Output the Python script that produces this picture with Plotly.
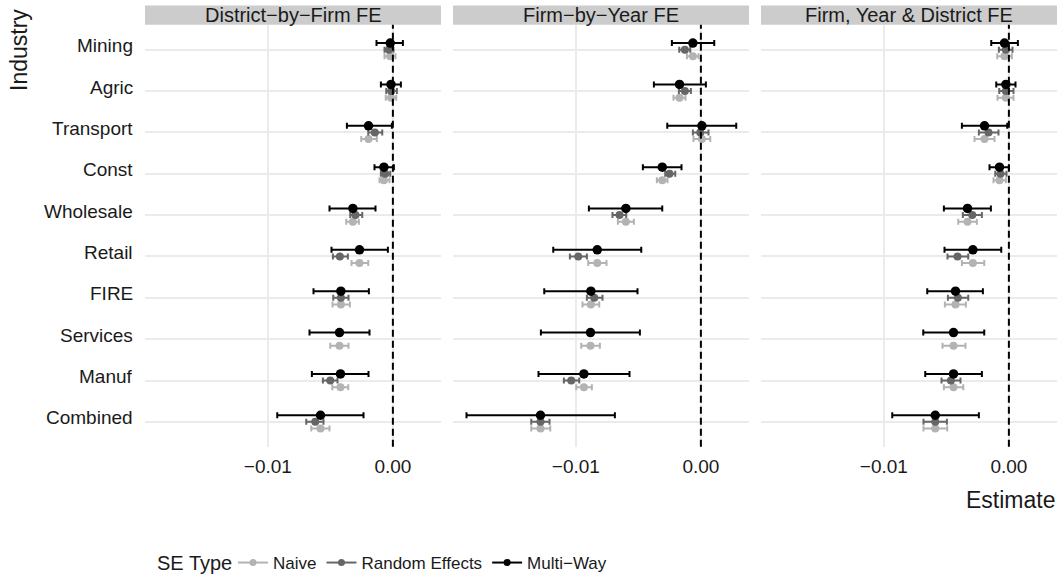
import plotly.graph_objects as go

# ---------------- data ----------------
industries = ["Mining", "Agric", "Transport", "Const", "Wholesale",
              "Retail", "FIRE", "Services", "Manuf", "Combined"]
panels = ["District−by−Firm FE", "Firm−by−Year FE", "Firm, Year & District FE"]
se_types = ["Naive", "Random Effects", "Multi−Way"]
tick_vals = [-0.01, 0.0]
tick_text = ["−0.01", "0.00"]

# OLS point estimates (shared by Naive and Multi-Way SEs)
est_ols_p1 = [-0.00021, -0.00015, -0.00195, -0.00072, -0.00320, -0.00267, -0.00416, -0.00427, -0.00419, -0.00579]
est_ols_p2 = [-0.00064, -0.00171, 0.00008, -0.00309, -0.00600, -0.00829, -0.00880, -0.00883, -0.00936, -0.01283]
est_ols_p3 = [-0.00035, -0.00024, -0.00195, -0.00075, -0.00331, -0.00288, -0.00427, -0.00443, -0.00443, -0.00589]

# Random-effects estimates (None = not reported)
est_re_p1 = [-0.00032, -0.00013, -0.00144, -0.00061, -0.00299, -0.00424, -0.00416, None, -0.00501, -0.00621]
est_re_p2 = [-0.00128, -0.00128, -0.00005, -0.00251, -0.00651, -0.00981, -0.00853, None, -0.01037, -0.01283]
est_re_p3 = [-0.00024, -0.00024, -0.00163, -0.00067, -0.00293, -0.00411, -0.00408, None, -0.00464, -0.00589]

# Naive CI
naive_lo_p1 = [-0.00067, -0.00057, -0.00253, -0.00107, -0.00373, -0.00331, -0.00483, -0.00501, -0.00485, -0.00653]
naive_hi_p1 = [0.00021, 0.00027, -0.00128, -0.00027, -0.00272, -0.00197, -0.00344, -0.00355, -0.00357, -0.00507]
naive_lo_p2 = [-0.00112, -0.00219, -0.00059, -0.00352, -0.00664, -0.00901, -0.00947, -0.00957, -0.00997, -0.01357]
naive_hi_p2 = [-0.00019, -0.00123, 0.00075, -0.00267, -0.00536, -0.00755, -0.00813, -0.00808, -0.00872, -0.01205]
naive_lo_p3 = [-0.00093, -0.00091, -0.00275, -0.00123, -0.00405, -0.00376, -0.00512, -0.00531, -0.00520, -0.00683]
naive_hi_p3 = [0.00024, 0.00037, -0.00115, -0.00024, -0.00256, -0.00197, -0.00344, -0.00347, -0.00365, -0.00493]

# Random-effects CI
re_lo_p1 = [-0.00067, -0.00053, -0.00197, -0.00096, -0.00341, -0.00480, -0.00477, None, -0.00560, -0.00693]
re_hi_p1 = [0.00005, 0.00032, -0.00085, -0.00021, -0.00245, -0.00360, -0.00355, None, -0.00443, -0.00555]
re_lo_p2 = [-0.00173, -0.00176, -0.00064, -0.00285, -0.00707, -0.01048, -0.00912, None, -0.01096, -0.01357]
re_hi_p2 = [-0.00085, -0.00080, 0.00061, -0.00205, -0.00597, -0.00912, -0.00787, None, -0.00973, -0.01211]
re_lo_p3 = [-0.00080, -0.00077, -0.00240, -0.00109, -0.00368, -0.00491, -0.00488, None, -0.00539, -0.00683]
re_hi_p3 = [0.00029, 0.00037, -0.00083, -0.00019, -0.00216, -0.00325, -0.00325, None, -0.00387, -0.00496]

# Multi-way CI
mw_lo_p1 = [-0.00131, -0.00096, -0.00368, -0.00147, -0.00507, -0.00491, -0.00635, -0.00667, -0.00648, -0.00925]
mw_hi_p1 = [0.00080, 0.00064, -0.00008, 0.00008, -0.00139, -0.00040, -0.00192, -0.00187, -0.00195, -0.00235]
mw_lo_p2 = [-0.00232, -0.00376, -0.00269, -0.00464, -0.00896, -0.01181, -0.01253, -0.01280, -0.01299, -0.01875]
mw_hi_p2 = [0.00107, 0.00040, 0.00283, -0.00155, -0.00309, -0.00477, -0.00507, -0.00488, -0.00571, -0.00688]
mw_lo_p3 = [-0.00141, -0.00101, -0.00376, -0.00155, -0.00520, -0.00515, -0.00653, -0.00685, -0.00669, -0.00933]
mw_hi_p3 = [0.00072, 0.00053, -0.00013, 0.00000, -0.00144, -0.00061, -0.00208, -0.00197, -0.00216, -0.00240]

# ---------------- styling ----------------
W, H = 1058, 581
colors = {"Naive": "#B3B3B3", "Random Effects": "#666666", "Multi−Way": "#000000"}
msize = {"Naive": 8, "Random Effects": 8, "Multi−Way": 9.5}
dodge = {"Naive": 0.16, "Random Effects": 0.0, "Multi−Way": -0.16}
panel_px = [(145, 441), (453, 749), (761, 1057)]
plot_top, plot_bot = 25, 449
strip_top = 5.5
xrange_ = [-0.01983, 0.00385]
grid_col = "#EBEBEB"
txt_col = "#1A1A1A"
FONT = "Liberation Sans, Arial, sans-serif"

panel_data = [
    {"Naive": (est_ols_p1, naive_lo_p1, naive_hi_p1),
     "Random Effects": (est_re_p1, re_lo_p1, re_hi_p1),
     "Multi−Way": (est_ols_p1, mw_lo_p1, mw_hi_p1)},
    {"Naive": (est_ols_p2, naive_lo_p2, naive_hi_p2),
     "Random Effects": (est_re_p2, re_lo_p2, re_hi_p2),
     "Multi−Way": (est_ols_p2, mw_lo_p2, mw_hi_p2)},
    {"Naive": (est_ols_p3, naive_lo_p3, naive_hi_p3),
     "Random Effects": (est_re_p3, re_lo_p3, re_hi_p3),
     "Multi−Way": (est_ols_p3, mw_lo_p3, mw_hi_p3)},
]

fig = go.Figure()

for p, pdata in enumerate(panel_data):
    xa = "x" if p == 0 else f"x{p+1}"
    ya = "y" if p == 0 else f"y{p+1}"
    for se in se_types:
        est, lo, hi = pdata[se]
        plus = [None if (e is None or h is None) else h - e for e, h in zip(est, hi)]
        minus = [None if (e is None or l is None) else e - l for e, l in zip(est, lo)]
        yy = [i + dodge[se] for i in range(len(industries))]
        fig.add_trace(go.Scatter(
            x=est, y=yy, xaxis=xa, yaxis=ya, mode="markers",
            marker=dict(color=colors[se], size=msize[se], line=dict(width=0)),
            error_x=dict(type="data", symmetric=False, array=plus, arrayminus=minus,
                         color=colors[se], thickness=2, width=3),
            showlegend=False, name=se, hoverinfo="x+name",
        ))

# legend-only traces
for se in se_types:
    fig.add_trace(go.Scatter(
        x=[None], y=[None], mode="lines+markers", name=se,
        line=dict(color=colors[se], width=2),
        marker=dict(color=colors[se], size=7),
        showlegend=True,
    ))

layout = dict(
    width=W, height=H,
    margin=dict(l=0, r=0, t=0, b=0),
    paper_bgcolor="white", plot_bgcolor="white",
    font=dict(family=FONT, color=txt_col),
    showlegend=True,
    legend=dict(orientation="h", x=233 / W, xanchor="left", y=1 - 566 / H, yanchor="middle",
                font=dict(size=17, color=txt_col), bgcolor="rgba(0,0,0,0)",
                itemclick=False, itemdoubleclick=False),
)

shapes = []
annotations = []
for p in range(3):
    xk = "xaxis" if p == 0 else f"xaxis{p+1}"
    yk = "yaxis" if p == 0 else f"yaxis{p+1}"
    xr = "x" if p == 0 else f"x{p+1}"
    yr = "y" if p == 0 else f"y{p+1}"
    x0, x1 = panel_px[p]
    layout[xk] = dict(
        domain=[x0 / W, x1 / W], range=xrange_, anchor=yr,
        tickvals=tick_vals, ticktext=tick_text,
        showgrid=True, gridcolor=grid_col, gridwidth=2,
        zeroline=False, showline=False, ticks="",
        tickfont=dict(size=19, color=txt_col), ticklabelstandoff=6,
        fixedrange=True,
    )
    layout[yk] = dict(
        domain=[1 - plot_bot / H, 1 - plot_top / H], range=[len(industries) - 0.4, -0.6],
        anchor=xr, tickvals=list(range(len(industries))),
        showticklabels=False,
        showgrid=True, gridcolor=grid_col, gridwidth=2,
        zeroline=False, showline=False, ticks="",
        fixedrange=True,
    )
    # dashed reference line at zero
    shapes.append(dict(type="line", xref=xr, yref=f"{yr} domain", x0=0, x1=0, y0=0, y1=1,
                       line=dict(color="black", width=2, dash="7px,4px"), layer="above"))
    # facet strip
    shapes.append(dict(type="rect", xref=f"{xr} domain", yref="paper", x0=0, x1=1,
                       y0=1 - plot_top / H, y1=1 - strip_top / H,
                       fillcolor="#CCCCCC", line=dict(width=0), layer="below"))
    annotations.append(dict(text=panels[p], xref=f"{xr} domain", yref="paper",
                            x=0.5, y=1 - (plot_top + strip_top) / 2 / H,
                            xanchor="center", yanchor="middle", showarrow=False,
                            font=dict(size=20, color=txt_col)))

# industry labels (y axis text of first panel)
for i, name in enumerate(industries):
    annotations.append(dict(text=name, xref="paper", yref="y", x=135 / W, y=i,
                            xanchor="right", yanchor="middle", yshift=4, showarrow=False,
                            font=dict(size=19, color=txt_col)))

annotations.append(dict(text="Estimate", xref="paper", yref="paper", x=1057 / W, y=1 - 503 / H,
                        xanchor="right", yanchor="middle", showarrow=False,
                        font=dict(size=23, color=txt_col)))
annotations.append(dict(text="Industry", xref="paper", yref="paper", x=19 / W, y=1 - 7 / H,
                        xanchor="center", yanchor="top", textangle=-90, showarrow=False,
                        font=dict(size=23, color=txt_col)))
annotations.append(dict(text="SE Type", xref="paper", yref="paper", x=155 / W, y=1 - 566 / H,
                        xanchor="left", yanchor="middle", showarrow=False,
                        font=dict(size=20, color=txt_col)))

layout["shapes"] = shapes
layout["annotations"] = annotations
fig.update_layout(**layout)

fig.write_html("out.html")
